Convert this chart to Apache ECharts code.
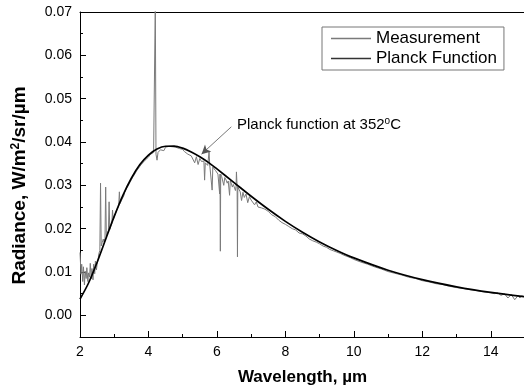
<!DOCTYPE html>
<html>
<head>
<meta charset="utf-8">
<script src="https://cdn.jsdelivr.net/npm/echarts@6/dist/echarts.min.js"></script>
<style>
  html, body { margin: 0; padding: 0; background: #fff; }
  #chart { width: 524px; height: 388px; }
</style>
</head>
<body>
<div id="chart"></div>
<script>
// ----------------- D A T A ----------------- //

const planckWave = [2.0, 2.25, 2.5, 2.75, 3.0, 3.25, 3.5, 3.75, 4.0, 4.25, 4.5, 4.75, 5.0, 5.25, 5.5, 5.75, 6.0, 6.5, 7.0, 7.5, 8.0, 8.5, 9.0, 9.5, 10, 11, 12, 13, 14, 15]
const planckRad = [0.00374, 0.00746, 0.01225, 0.01757, 0.02284, 0.02763, 0.03164, 0.03479, 0.03699, 0.03838, 0.03902, 0.03906, 0.03858, 0.0377, 0.0366, 0.0353, 0.03378, 0.03064, 0.02748, 0.02447, 0.02169, 0.01919, 0.01695, 0.01498, 0.01325, 0.01041, 0.00824, 0.00658, 0.0053, 0.00431]

// [wavelength um, radiance]
const measurement = [
  [2.00, 0.0145], [2.03, 0.0095], [2.05, 0.0118], [2.08, 0.0078], [2.10, 0.0112], [2.13, 0.0070],
  [2.15, 0.0102], [2.18, 0.0085], [2.20, 0.0110], [2.23, 0.0078], [2.25, 0.0098], [2.28, 0.0088],
  [2.30, 0.0120], [2.33, 0.0084], [2.35, 0.0108], [2.38, 0.0082], [2.40, 0.0118], [2.43, 0.0096],
  [2.45, 0.0125], [2.48, 0.0105], [2.50, 0.0118], [2.53, 0.0130], [2.55, 0.0142], [2.58, 0.0150],
  [2.60, 0.0305], [2.62, 0.0160], [2.65, 0.0168], [2.68, 0.0176], [2.70, 0.0170], [2.73, 0.0178],
  [2.75, 0.0296], [2.77, 0.0182], [2.80, 0.0190], [2.83, 0.0196], [2.85, 0.0262], [2.87, 0.0198],
  [2.90, 0.0206], [2.93, 0.0212], [2.95, 0.0243], [2.97, 0.0220], [3.00, 0.0228], [3.03, 0.0232],
  [3.05, 0.0238], [3.08, 0.0244], [3.10, 0.0248], [3.13, 0.0252], [3.15, 0.0285], [3.17, 0.0258],
  [3.20, 0.0262], [3.23, 0.0268], [3.25, 0.0272], [3.28, 0.0276], [3.30, 0.0283], [3.33, 0.0286],
  [3.35, 0.0292], [3.40, 0.0298], [3.45, 0.0306], [3.50, 0.0313], [3.55, 0.0320], [3.60, 0.0326],
  [3.65, 0.0333], [3.70, 0.0337], [3.75, 0.0344], [3.80, 0.0349], [3.85, 0.0352], [3.90, 0.0358],
  [3.95, 0.0361], [4.00, 0.0365], [4.05, 0.0371], [4.10, 0.0369], [4.15, 0.0376], [4.18, 0.0374],
  [4.20, 0.0720], [4.22, 0.0372], [4.25, 0.0358], [4.28, 0.0376], [4.30, 0.0379], [4.35, 0.0382],
  [4.40, 0.0385], [4.45, 0.0380], [4.50, 0.0388], [4.55, 0.0386], [4.60, 0.0390], [4.65, 0.0387],
  [4.70, 0.0389], [4.75, 0.0386], [4.80, 0.0388], [4.85, 0.0384], [4.90, 0.0385], [4.95, 0.0381],
  [5.00, 0.0383], [5.05, 0.0378], [5.10, 0.0380], [5.15, 0.0372], [5.20, 0.0376], [5.25, 0.0368],
  [5.30, 0.0372], [5.35, 0.0352], [5.40, 0.0366], [5.45, 0.0348], [5.50, 0.0362], [5.55, 0.0355],
  [5.60, 0.0358], [5.62, 0.0356], [5.64, 0.0312], [5.66, 0.0352], [5.70, 0.0350], [5.73, 0.0346],
  [5.75, 0.0348], [5.77, 0.0377], [5.79, 0.0347], [5.82, 0.0344], [5.84, 0.0343], [5.86, 0.0289],
  [5.88, 0.0342], [5.92, 0.0338], [5.96, 0.0334], [6.00, 0.0330], [6.03, 0.0326], [6.06, 0.0330],
  [6.08, 0.0280], [6.09, 0.0326], [6.10, 0.0148], [6.11, 0.0326], [6.14, 0.0320], [6.17, 0.0316],
  [6.20, 0.0300], [6.23, 0.0318], [6.27, 0.0312], [6.30, 0.0305], [6.33, 0.0310], [6.36, 0.0312],
  [6.37, 0.0277], [6.39, 0.0310], [6.42, 0.0305], [6.45, 0.0296], [6.48, 0.0302], [6.52, 0.0299],
  [6.54, 0.0288], [6.56, 0.0298], [6.57, 0.0331], [6.59, 0.0297], [6.60, 0.0135], [6.61, 0.0296],
  [6.64, 0.0292], [6.68, 0.0285], [6.72, 0.0265], [6.76, 0.0284], [6.80, 0.0272], [6.85, 0.0280],
  [6.90, 0.0260], [6.95, 0.0274], [7.00, 0.0266], [7.05, 0.0268], [7.10, 0.0255], [7.15, 0.0262],
  [7.20, 0.0250], [7.25, 0.0254], [7.30, 0.0248], [7.35, 0.0252], [7.40, 0.0245], [7.45, 0.0244],
  [7.50, 0.0240], [7.55, 0.0238], [7.60, 0.0232], [7.65, 0.0233], [7.70, 0.0228], [7.75, 0.0226],
  [7.80, 0.0220], [7.85, 0.0221], [7.90, 0.0214], [7.95, 0.0213], [8.00, 0.0210], [8.10, 0.0205],
  [8.20, 0.0200], [8.30, 0.0197], [8.40, 0.0190], [8.50, 0.0188], [8.60, 0.0183], [8.70, 0.0176],
  [8.80, 0.0172], [8.90, 0.0169], [9.00, 0.0165], [9.10, 0.0160], [9.20, 0.0157], [9.30, 0.0152],
  [9.40, 0.0149], [9.50, 0.0146], [9.60, 0.0143], [9.70, 0.0139], [9.80, 0.0136], [9.90, 0.0133],
  [10.0, 0.0129], [10.2, 0.0123], [10.4, 0.0118], [10.6, 0.0112], [10.8, 0.0107], [11.0, 0.0101],
  [11.2, 0.0097], [11.4, 0.0093], [11.6, 0.0088], [11.8, 0.0085], [12.0, 0.0080], [12.2, 0.0077],
  [12.4, 0.0073], [12.6, 0.0071], [12.8, 0.0067], [13.0, 0.0064], [13.2, 0.0062], [13.4, 0.0059],
  [13.6, 0.0057], [13.8, 0.0054], [14.0, 0.0052], [14.1, 0.0050], [14.2, 0.0052], [14.3, 0.0046],
  [14.4, 0.0050], [14.5, 0.0040], [14.6, 0.0048], [14.7, 0.0036], [14.8, 0.0046], [14.85, 0.0040],
  [14.9, 0.0045], [15.0, 0.0042]
]

const yMajorTicks = [0, 0.01, 0.02, 0.03, 0.04, 0.05, 0.06, 0.07]

// ----------------- C H A R T ----------------- //

const FONT = 'Arial, "Liberation Sans", sans-serif'
const chart = echarts.init(document.getElementById('chart'), null, { renderer: 'canvas' })

const option = {
  animation: false,
  backgroundColor: '#fff',
  grid: { left: 80, right: -1, top: 12, bottom: 51, outerBoundsMode: 'none' },
  legend: {
    left: 322,
    top: 27,
    orient: 'vertical',
    padding: [3, 7, 3, 9],
    itemGap: 3,
    itemWidth: 40,
    itemHeight: 1.5,
    icon: 'rect',
    borderColor: '#777',
    borderWidth: 1,
    textStyle: { fontFamily: FONT, fontSize: 17, color: '#000' },
    data: [
      { name: 'Measurement', itemStyle: { color: '#7a7a7a' } },
      { name: 'Planck Function', itemStyle: { color: '#333' } }
    ]
  },
  xAxis: [
    {
      type: 'value',
      min: 2,
      max: 15,
      interval: 2,
      name: 'Wavelength, µm',
      nameLocation: 'middle',
      nameGap: 32,
      nameTextStyle: { fontFamily: FONT, fontSize: 17, fontWeight: 'bold', color: '#000' },
      axisLine: { onZero: false, lineStyle: { color: '#000', width: 1 } },
      axisTick: { inside: true, length: 6, lineStyle: { color: '#000' } },
      axisLabel: { fontFamily: FONT, fontSize: 14, color: '#000', margin: 8, showMaxLabel: false },
      splitLine: { show: false }
    },
    {
      // minor ticks
      type: 'value',
      min: 2,
      max: 15,
      interval: 1,
      position: 'bottom',
      axisLine: { show: false, onZero: false },
      axisTick: { inside: true, length: 3, lineStyle: { color: '#000' } },
      axisLabel: { show: false },
      splitLine: { show: false }
    },
    {
      // top frame
      type: 'value',
      min: 2,
      max: 15,
      position: 'top',
      axisLine: { onZero: false, lineStyle: { color: '#000', width: 1 } },
      axisTick: { show: false },
      axisLabel: { show: false },
      splitLine: { show: false }
    }
  ],
  yAxis: [
    {
      type: 'value',
      min: -0.005,
      max: 0.07,
      name: '{t|Radiance, W/m}{s|2}{t|/sr/µm}',
      nameLocation: 'middle',
      nameGap: 50,
      nameRotate: 90,
      nameTextStyle: {
        padding: [0, 22, 0, 0],
        rich: {
          t: { fontFamily: FONT, fontSize: 19, fontWeight: 'bold', color: '#000' },
          s: { fontFamily: FONT, fontSize: 12, fontWeight: 'bold', color: '#000', verticalAlign: 'top', padding: [0, 0, 8, 0] }
        }
      },
      axisLine: { onZero: false, lineStyle: { color: '#000', width: 1 } },
      axisTick: { inside: true, length: 6, customValues: yMajorTicks, lineStyle: { color: '#000' } },
      axisLabel: {
        fontFamily: FONT, fontSize: 14, color: '#000', margin: 8,
        customValues: yMajorTicks,
        formatter: (v) => v.toFixed(2)
      },
      splitLine: { show: false }
    },
    {
      // minor ticks
      type: 'value',
      min: -0.005,
      max: 0.07,
      interval: 0.005,
      position: 'left',
      axisLine: { show: false, onZero: false },
      axisTick: { inside: true, length: 3, lineStyle: { color: '#000' } },
      axisLabel: { show: false },
      splitLine: { show: false }
    }
  ],
  graphic: [
    {
      type: 'text',
      left: 237,
      top: 116,
      style: {
        text: '{t|Planck function at 352}{s|o}{t|C}',
        rich: {
          t: { fontFamily: FONT, fontSize: 15, fill: '#000' },
          s: { fontFamily: FONT, fontSize: 10, fill: '#000', verticalAlign: 'top', padding: [0, 0, 7, 0] }
        }
      }
    }
  ],
  series: [
    {
      name: 'Measurement',
      type: 'line',
      symbol: 'none',
      lineStyle: { color: '#7a7a7a', width: 1 },
      itemStyle: { color: '#7a7a7a' },
      data: measurement,
      z: 2
    },
    {
      name: 'Planck Function',
      type: 'line',
      symbol: 'none',
      smooth: 0.3,
      lineStyle: { color: '#000', width: 1.7 },
      itemStyle: { color: '#000' },
      data: planckWave.map((w, i) => [w, planckRad[i]]),
      z: 3,
      markLine: {
        silent: true,
        symbol: ['none', 'arrow'],
        symbolSize: [7, 9],
        label: { show: false },
        lineStyle: { color: '#555', width: 0.8, type: 'solid' },
        data: [[{ coord: [6.42, 0.0435] }, { coord: [5.55, 0.0372] }]]
      }
    }
  ]
}

chart.setOption(option)
</script>
</body>
</html>
